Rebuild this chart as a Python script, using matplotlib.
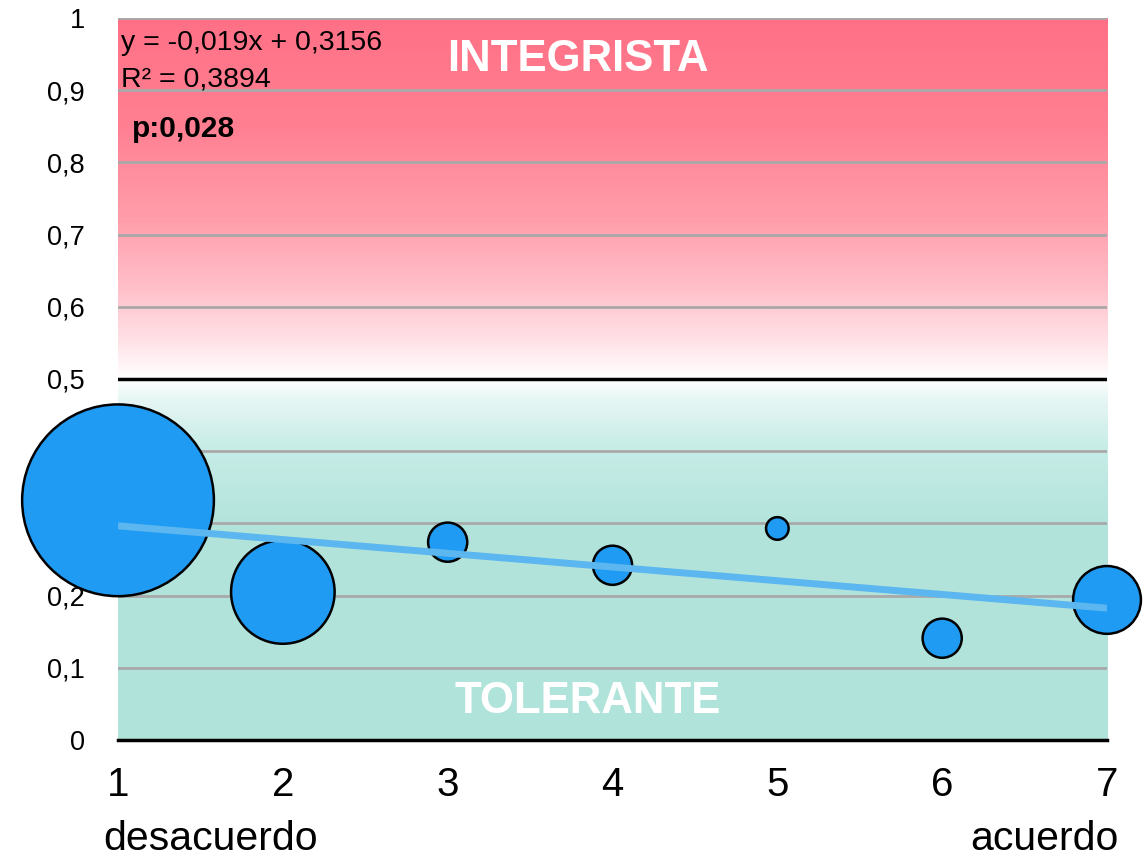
import numpy as np
import matplotlib
matplotlib.use("Agg")
import matplotlib.pyplot as plt
from matplotlib.colors import LinearSegmentedColormap

plt.rcParams['font.family'] = ['Liberation Sans', 'DejaVu Sans']

# datos
escala = [1, 2, 3, 4, 5, 6, 7]
indice = [0.332, 0.205, 0.274, 0.242, 0.293, 0.141, 0.194]
n_casos = [72, 21, 3, 3, 1, 3, 9]
pendiente = -0.019
ordenada = 0.3156
y_ticks = [0, 0.1, 0.2, 0.3, 0.4, 0.5, 0.6, 0.7, 0.8, 0.9, 1]
y_labels = ["0", "0,1", "0,2", "0,3", "0,4", "0,5", "0,6", "0,7", "0,8", "0,9", "1"]

fig = plt.figure(figsize=(11.48, 8.56), dpi=100)
ax = fig.add_axes([0.1028, 0.1355, 0.8615, 0.8435])

# fondo degradado: tolerante (abajo) / integrista (arriba)
cmap = LinearSegmentedColormap.from_list("fondo", [
    (0.0, "#b0e3da"), (0.30, "#b3e4dc"), (0.40, "#c6ece6"),
    (0.47, "#e6f6f4"), (0.5, "#ffffff"), (0.55, "#ffe3e8"),
    (0.62, "#ffc2cc"), (0.72, "#ff9eab"), (0.85, "#ff8092"),
    (1.0, "#ff7086")])
grad = np.linspace(0, 1, 400).reshape(-1, 1)
ax.imshow(grad, cmap=cmap, origin="lower", extent=[1, 7, 0, 1],
          aspect="auto", zorder=0)

ax.set_xlim(1, 7)
ax.set_ylim(0, 1)
ax.set_yticks(y_ticks)
ax.set_yticklabels(y_labels)
ax.set_xticks(escala)
ax.set_xticklabels([str(v) for v in escala])
ax.tick_params(axis="y", length=0, pad=24, labelsize=19.5)
ax.tick_params(axis="x", length=0, pad=19, labelsize=29)
ax.yaxis.grid(True, color="#a9a9a9", linewidth=2)
for s in ["top", "right", "left"]:
    ax.spines[s].set_visible(False)
ax.spines["bottom"].set_linewidth(2.5)
ax.spines["bottom"].set_color("black")
ax.axhline(0.5, color="black", linewidth=2.5, zorder=2)

# burbujas
radio_px = [11.3 * np.sqrt(v) for v in n_casos]
tam = [(2 * r * 0.72) ** 2 for r in radio_px]
ax.scatter(escala, indice, s=tam, color="#1f9bf3", edgecolor="black",
           linewidth=1.8, zorder=5, clip_on=False)

# recta de regresion
xs = np.array([escala[0], escala[-1]])
ax.plot(xs, pendiente * xs + ordenada, color="#5cb6ef", linewidth=5,
        solid_capstyle="butt", zorder=6)

ax.text(1.02, 0.966, "y = -0,019x + 0,3156", fontsize=20.5, va="center", zorder=7)
ax.text(1.02, 0.915, "R² = 0,3894", fontsize=20.5, va="center", zorder=7)
ax.text(1.085, 0.846, "p:0,028", fontsize=21.5, fontweight="bold", va="center", zorder=7)

ax.text(3.79, 0.943, "INTEGRISTA", fontsize=31.5, fontweight="bold",
        color="white", ha="center", va="center", zorder=7)
ax.text(3.85, 0.054, "TOLERANTE", fontsize=31.5, fontweight="bold",
        color="white", ha="center", va="center", zorder=7)

fig.text(0.0897, 0.007, "desacuerdo", fontsize=29.5, ha="left", va="baseline")
fig.text(0.974, 0.007, "acuerdo", fontsize=29.5, ha="right", va="baseline")

fig.savefig("out.png", dpi=100)
